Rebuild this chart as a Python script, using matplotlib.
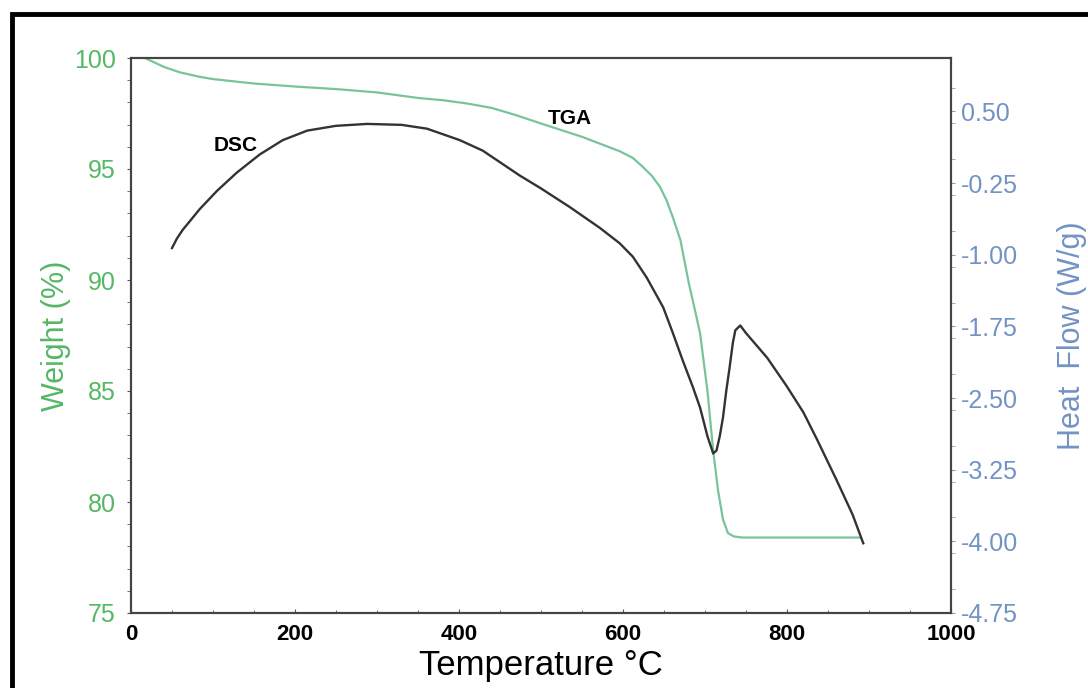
import matplotlib.pyplot as plt
from matplotlib.patches import Rectangle
from matplotlib.ticker import MultipleLocator

plt.rcParams["font.family"] = ["Liberation Sans", "DejaVu Sans"]

# TGA: weight loss vs temperature
tga_temp = [17, 40, 60, 84, 100, 150, 206, 250, 300, 350, 380, 410, 440, 470,
            500, 550, 596, 612, 624, 635, 645, 653, 661, 670, 680, 688, 694, 703,
            710, 716, 722, 728, 735, 745, 800, 890]
tga_weight = [100.0, 99.6, 99.35, 99.15, 99.05, 98.85, 98.7, 98.6, 98.45, 98.2,
              98.1, 97.95, 97.75, 97.42, 97.05, 96.45, 95.8, 95.5, 95.1, 94.7,
              94.2, 93.6, 92.8, 91.8, 89.9, 88.6, 87.6, 85.0, 82.3, 80.5, 79.2,
              78.6, 78.45, 78.4, 78.4, 78.4]

# DSC: heat flow vs temperature
dsc_temp = [50, 56, 63, 84, 105, 129, 157, 185, 215, 250, 288, 330, 361, 401, 429,
            474, 499, 535, 572, 596, 612, 629, 649, 660, 673, 685, 694, 703, 710,
            714, 718, 722, 726, 730, 734, 737, 743, 750, 760, 776, 800, 820, 837,
            860, 880, 893]
dsc_flow = [-0.93, -0.83, -0.74, -0.52, -0.33, -0.14, 0.05, 0.20, 0.30, 0.35, 0.37,
            0.36, 0.32, 0.20, 0.09, -0.17, -0.30, -0.50, -0.72, -0.88, -1.02,
            -1.24, -1.55, -1.80, -2.11, -2.38, -2.60, -2.90, -3.08, -3.05, -2.90,
            -2.70, -2.42, -2.18, -1.92, -1.79, -1.74, -1.82, -1.92, -2.08, -2.38,
            -2.65, -2.94, -3.35, -3.72, -4.02]

weight_ticks = [75, 80, 85, 90, 95, 100]
flow_ticks = [0.50, -0.25, -1.00, -1.75, -2.50, -3.25, -4.00, -4.75]
temp_ticks = [0, 200, 400, 600, 800, 1000]

green_txt = "#55b865"
green_line = "#78c49a"
blue_txt = "#7393c4"

fig = plt.figure(figsize=(10.88, 6.88), dpi=100)
fig.patches.append(Rectangle((12 / 1088, -0.1), 1.2, (688 - 14) / 688 + 0.1,
                             transform=fig.transFigure, fill=False,
                             edgecolor="black", lw=3.5))

ax = fig.add_axes([131 / 1088, 1 - 613 / 688, 820 / 1088, 555 / 688])
ax2 = ax.twinx()

ax.plot(tga_temp, tga_weight, color=green_line, lw=1.6)
ax2.plot(dsc_temp, dsc_flow, color="#333333", lw=1.7)

ax.set_xlim(0, 1000)
ax.set_ylim(75, 100)
ax2.set_ylim(-4.75, 1.06)

ax.set_xticks(temp_ticks)
ax.set_xticklabels([str(t) for t in temp_ticks], fontsize=16, fontweight="bold")
ax.xaxis.set_minor_locator(MultipleLocator(50))
ax.set_yticks(weight_ticks)
ax.set_yticklabels([str(w) for w in weight_ticks], fontsize=18, color=green_txt)
ax.yaxis.set_minor_locator(MultipleLocator(1))
ax2.set_yticks(flow_ticks)
ax2.set_yticklabels(["%.2f" % f for f in flow_ticks], fontsize=18, color=blue_txt)
ax2.yaxis.set_minor_locator(MultipleLocator(0.375))

ax.tick_params(axis="x", direction="in", length=3, pad=8, color="#555555")
ax.tick_params(axis="x", which="minor", direction="in", length=2, color="#555555")
ax.tick_params(axis="y", which="both", length=3, pad=8, color="#555555")
ax2.tick_params(axis="y", which="both", length=3, pad=4, color="#999999")

for a in (ax, ax2):
    for s in a.spines.values():
        s.set_color("#444444")
        s.set_linewidth(1.5)

ax.set_xlabel("Temperature °C", fontsize=25, labelpad=3)
ax.set_ylabel("Weight (%)", fontsize=22, color=green_txt, labelpad=2)
ax2.set_ylabel("Heat  Flow (W/g)", fontsize=22, color=blue_txt, labelpad=28)

ax2.text(128, 0.14, "DSC", fontsize=15, fontweight="bold", ha="center", va="center")
ax2.text(535, 0.43, "TGA", fontsize=15, fontweight="bold", ha="center", va="center")

fig.savefig("out.png", dpi=100)
